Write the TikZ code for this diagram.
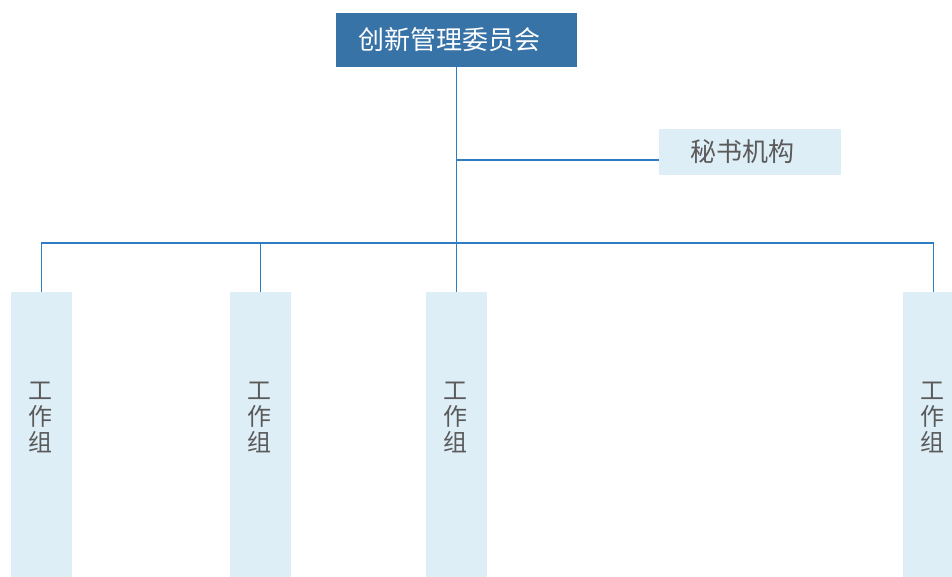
\documentclass[tikz,border=0pt]{standalone}
\usepackage{fontspec}
\newfontfamily\cjk{Noto Sans CJK SC}
\definecolor{topblue}{HTML}{3873A8}
\definecolor{lightbox}{HTML}{DEEEF7}
\definecolor{linecol}{HTML}{2E7CC2}
\definecolor{txtgray}{HTML}{5A5A5A}
\tikzset{
  headbox/.style={fill=topblue, draw=none, minimum width=241pt, minimum height=54pt, inner sep=0pt},
  secbox/.style={fill=lightbox, draw=none, minimum width=182pt, minimum height=46pt, inner sep=0pt},
  groupbox/.style={fill=lightbox, draw=none, minimum width=61pt, minimum height=285pt, inner sep=0pt},
  conn/.style={draw=linecol, line width=1.3pt},
  bigtxt/.style={font=\cjk\fontsize{26}{28}\selectfont},
  grptxt/.style={font=\cjk\fontsize{24}{26}\selectfont, text=txtgray, align=center}
}
\begin{document}
\begin{tikzpicture}[x=1pt,y=-1pt]
\useasboundingbox (0,0) rectangle (952,577);
\node[headbox, label={[bigtxt, text=white, xshift=-7pt, inner sep=0pt]center:创新管理委员会}] (head) at (456.5,40) {};
\node[secbox, label={[bigtxt, text=txtgray, xshift=-8pt, inner sep=0pt]center:秘书机构}] (sec) at (750,152) {};
\node[groupbox, label={[grptxt, yshift=17pt, xshift=-1pt, inner sep=0pt]center:工\\作\\组}] (g1) at (41.5,434.5) {};
\node[groupbox, label={[grptxt, yshift=17pt, xshift=-1pt, inner sep=0pt]center:工\\作\\组}] (g2) at (260.5,434.5) {};
\node[groupbox, label={[grptxt, yshift=17pt, xshift=-1pt, inner sep=0pt]center:工\\作\\组}] (g3) at (456.5,434.5) {};
\node[groupbox, label={[grptxt, yshift=17pt, xshift=-1pt, inner sep=0pt]center:工\\作\\组}] (g4) at (933.5,434.5) {};
\coordinate (branch) at (456.5,160);
\coordinate (bus) at (456.5,243);
\draw[conn] (head.south) -- (g3.north);
\draw[conn] (branch) -- (sec.west |- branch);
\draw[conn] (g1.north) -- (g1.north |- bus) -- (g4.north |- bus) -- (g4.north);
\draw[conn] (g2.north) -- (g2.north |- bus);
\end{tikzpicture}
\end{document}
